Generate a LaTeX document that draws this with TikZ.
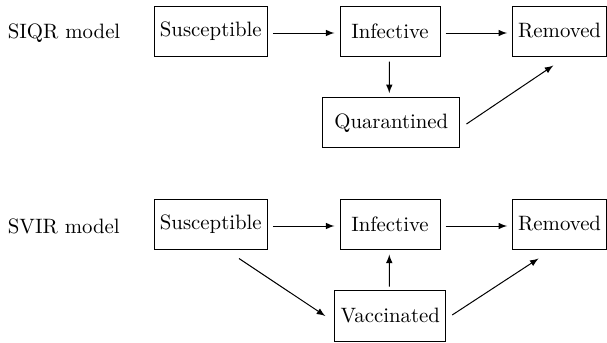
\documentclass[tikz,border=0pt]{standalone}
\usetikzlibrary{calc}
\begin{document}
\begin{tikzpicture}[x=0.5pt,y=-0.5pt,font=\fontsize{10.4}{12.5}\selectfont,
  box/.style={draw,line width=0.5pt,inner sep=0pt,minimum height=25pt},
  arr/.style={-latex,line width=0.5pt},
  lbl/.style={anchor=west,inner sep=0pt}]
\useasboundingbox (0,0) rectangle (607,343);
% SIQR
\node[lbl] (l1) at (7.5,33) {SIQR model};
\node[box,minimum width=56.5pt] (S1) at (210.8,31) {Susceptible};
\node[box,minimum width=50pt] (I1) at (390,31) {Infective};
\node[box,minimum width=47pt] (R1) at (559.6,31) {Removed};
\node[box,minimum width=68.7pt] (Q1) at (391.3,122.7) {Quarantined};
\draw[arr] ($(S1.east)+(5,2)$) -- ($(I1.west)+(-5,2)$);
\draw[arr] ($(I1.east)+(5,2)$) -- ($(R1.west)+(-5,2)$);
\draw[arr] ($(I1.south)+(-0.7,5)$) -- ($(Q1.north)+(-2,-4)$);
\draw[arr] ($(Q1.east)+(6,1.3)$) -- ($(R1.south)+(-6.2,9)$);
% SVIR
\node[lbl] (l2) at (7.5,226) {SVIR model};
\node[box,minimum width=56.5pt] (S2) at (210.8,224) {Susceptible};
\node[box,minimum width=50pt] (I2) at (390,224) {Infective};
\node[box,minimum width=47pt] (R2) at (559.6,224) {Removed};
\node[box,minimum width=55.8pt,minimum height=25.5pt] (V2) at (390.2,315.5) {Vaccinated};
\draw[arr] ($(S2.east)+(5,2)$) -- ($(I2.west)+(-5,2)$);
\draw[arr] ($(I2.east)+(5,2)$) -- ($(R2.west)+(-5,2)$);
\draw[arr] ($(V2.north)+(-0.9,-3)$) -- ($(I2.south)+(-0.7,5)$);
\draw[arr] ($(S2.south)+(28.2,9)$) -- ($(V2.west)+(-8.6,0.5)$);
\draw[arr] ($(V2.east)+(5.7,-0.5)$) -- ($(R2.south)+(-21,9)$);
\end{tikzpicture}
\end{document}
